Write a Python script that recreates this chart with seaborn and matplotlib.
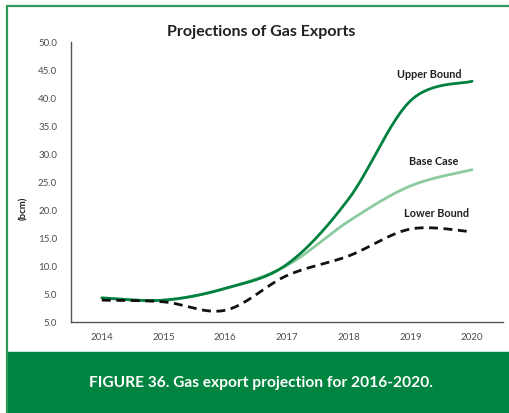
import numpy as np
import pandas as pd
import matplotlib
matplotlib.use("Agg")
import matplotlib.pyplot as plt
from matplotlib.patches import Rectangle
from matplotlib.lines import Line2D
import seaborn as sns

# Projected gas exports (bcm)
years = ["2014", "2015", "2016", "2017", "2018", "2019", "2020"]
upper_bound = [4.3, 3.9, 6.0, 10.3, 22.0, 39.5, 43.0]
base_case = [4.3, 3.9, 6.0, 10.1, 18.0, 24.3, 27.2]
lower_bound = [3.9, 3.6, 2.1, 8.3, 11.8, 16.6, 16.1]

ytick_values = [0, 5, 10, 15, 20, 25, 30, 35, 40, 45, 50]
ytick_labels = ["5.0", "5.0", "10.0", "15.0", "20.0", "25.0", "30.0",
                "35.0", "40.0", "45.0", "50.0"]

DARK_GREEN = "#00813f"
LIGHT_GREEN = "#8ccaa0"
BAND_GREEN = "#00843f"
FRAME_GREEN = "#2f9a5c"
TEXT = "#231f20"
TICK = "#4d4d4d"


def smooth(values, n=40):
    """Excel-style smoothed line: cubic Bezier segments with Catmull-Rom handles."""
    y = np.asarray(values, dtype=float)
    x = np.arange(len(y), dtype=float)
    pts = np.column_stack([x, y])
    ext = np.vstack([pts[0], pts, pts[-1]])
    out = []
    t = np.linspace(0, 1, n)[:, None]
    for i in range(len(pts) - 1):
        p0, p1, p2, p3 = ext[i], ext[i + 1], ext[i + 2], ext[i + 3]
        c1 = p1 + (p2 - p0) / 6.0
        c2 = p2 - (p3 - p1) / 6.0
        seg = ((1 - t) ** 3) * p1 + 3 * ((1 - t) ** 2) * t * c1 \
            + 3 * (1 - t) * t ** 2 * c2 + t ** 3 * p2
        out.append(seg if i == 0 else seg[1:])
    arr = np.vstack(out)
    return pd.DataFrame({"x": arr[:, 0], "y": arr[:, 1]})


sns.set_theme(style="white")
plt.rcParams["font.family"] = ["Lato", "DejaVu Sans"]

fig = plt.figure(figsize=(5.09, 4.14), dpi=100)

# outer frame (left and top rules) and caption band
fig.add_artist(Line2D([7 / 509, 7 / 509], [0, 1 - 7 / 414], color=FRAME_GREEN,
                      lw=1.6, transform=fig.transFigure))
fig.add_artist(Line2D([7 / 509, 1], [1 - 7 / 414, 1 - 7 / 414], color=FRAME_GREEN,
                      lw=1.6, transform=fig.transFigure))
fig.add_artist(Rectangle((7 / 509, 0), 1, 61 / 414, color=BAND_GREEN,
                         transform=fig.transFigure, zorder=0))
fig.text(0.512, 1 - 383 / 414, "FIGURE 36. Gas export projection for 2016-2020.",
         ha="center", va="center", color="white", fontsize=11.2, fontweight="bold")

ax = fig.add_axes([71 / 509, 1 - 323 / 414, (503 - 71) / 509, (323 - 43) / 414])

df_base = smooth(base_case)
df_upper = smooth(upper_bound)
df_lower = smooth(lower_bound)

sns.lineplot(data=df_base, x="x", y="y", ax=ax, color=LIGHT_GREEN, lw=2.0,
             sort=False, estimator=None)
sns.lineplot(data=df_upper, x="x", y="y", ax=ax, color=DARK_GREEN, lw=2.0,
             sort=False, estimator=None)
sns.lineplot(data=df_lower, x="x", y="y", ax=ax, color="#111111", lw=2.0,
             sort=False, estimator=None, linestyle=(0, (3.2, 2.0)))

ax.set_xlim(-0.5, len(years) - 0.5)
ax.set_ylim(0, 50)
ax.set_xticks(range(len(years)))
ax.set_xticklabels(years)
ax.set_yticks(ytick_values)
ax.set_yticklabels(ytick_labels)
ax.tick_params(axis="both", length=0, labelsize=7, colors=TICK)
ax.tick_params(axis="x", pad=7)
ax.tick_params(axis="y", pad=10)
for lab in ax.get_xticklabels() + ax.get_yticklabels():
    lab.set_color(TICK)

ax.set_xlabel("")
ax.set_ylabel("")
for side in ("top", "right"):
    ax.spines[side].set_visible(False)
for side in ("left", "bottom"):
    ax.spines[side].set_color("#555555")
    ax.spines[side].set_linewidth(1.0)

fig.text(24 / 509, 1 - 208 / 414, "(bcm)", rotation=90, ha="center", va="center",
         fontsize=6.8, fontweight="bold", color=TEXT)

fig.text(261 / 509, 1 - 32 / 414, "Projections of Gas Exports", ha="center",
         va="center", fontsize=11.5, fontweight="bold", color=TEXT)

ax.text(5.3, 44.3, "Upper Bound", ha="center", va="center", fontsize=7.8,
        fontweight="bold", color=TEXT)
ax.text(5.37, 28.75, "Base Case", ha="center", va="center", fontsize=7.8,
        fontweight="bold", color=TEXT)
ax.text(5.42, 19.6, "Lower Bound", ha="center", va="center", fontsize=7.8,
        fontweight="bold", color=TEXT)

fig.savefig("out.png", dpi=100)
